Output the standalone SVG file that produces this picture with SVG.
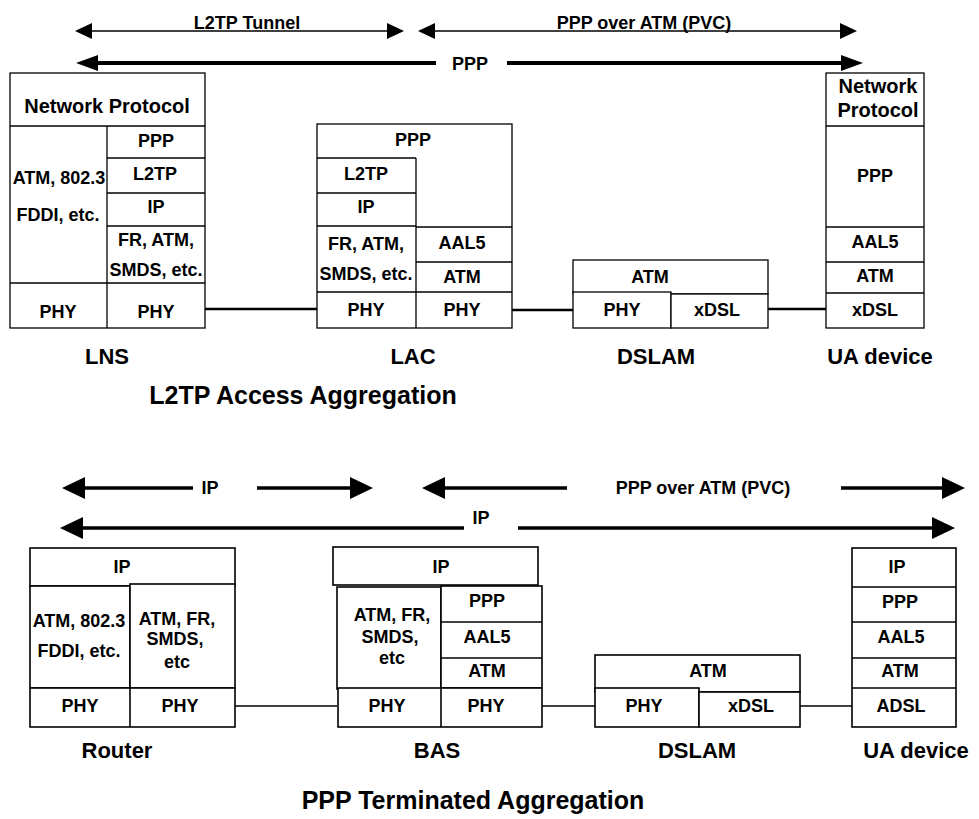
<svg xmlns="http://www.w3.org/2000/svg" width="979" height="819" viewBox="0 0 979 819">
<style>
.box{fill:#fff;stroke:#000;stroke-width:1.3}
.bx2{fill:#fff;stroke:#000;stroke-width:1.6}
.ln{stroke:#000;stroke-width:1.3;fill:none}
.ln2{stroke:#000;stroke-width:1.6;fill:none}
text{font-family:"Liberation Sans",Arial,sans-serif;font-weight:bold;font-size:18px;text-anchor:middle;fill:#000}
.np{font-size:20px}
.lbl{font-size:22px}
.hd{font-size:25px}
.thin{stroke:#000;stroke-width:1.4;fill:none}
.thick{stroke:#000;stroke-width:4;fill:none}
.mid{stroke:#000;stroke-width:3.5;fill:none}
.conA{stroke:#000;stroke-width:2.6;fill:none}
.conB{stroke:#000;stroke-width:1.7;fill:none}
</style>
<defs>
<marker id="ahS" viewBox="0 -8 17 16" refX="0" refY="0" markerWidth="17" markerHeight="16" markerUnits="userSpaceOnUse" orient="auto-start-reverse"><path d="M0,-8 L17,0 L0,8 z" fill="#000"/></marker>
<marker id="ahM" viewBox="0 -8 22 16" refX="0" refY="0" markerWidth="22" markerHeight="16" markerUnits="userSpaceOnUse" orient="auto-start-reverse"><path d="M0,-8 L22,0 L0,8 z" fill="#000"/></marker>
<marker id="ahL" viewBox="0 -11 23 22" refX="0" refY="0" markerWidth="23" markerHeight="22" markerUnits="userSpaceOnUse" orient="auto-start-reverse"><path d="M0,-11 L23,0 L0,11 z" fill="#000"/></marker>
</defs>
<rect width="979" height="819" fill="#fff"/>

<g id="connectors">
<line class="thin" x1="92" y1="31" x2="387" y2="31" marker-start="url(#ahS)" marker-end="url(#ahS)"/>
<line class="thin" x1="435" y1="31" x2="840" y2="31" marker-start="url(#ahS)" marker-end="url(#ahS)"/>
<line class="thick" x1="98" y1="63" x2="436" y2="63" marker-start="url(#ahM)"/>
<line class="thick" x1="507" y1="63" x2="841" y2="63" marker-end="url(#ahM)"/>
<line class="conA" x1="205" y1="309" x2="317" y2="309"/>
<line class="conA" x1="512" y1="310" x2="573" y2="310"/>
<line class="conA" x1="768" y1="309" x2="826" y2="309"/>
<line class="mid" x1="85" y1="488" x2="193" y2="488" marker-start="url(#ahL)"/>
<line class="mid" x1="257" y1="488" x2="350" y2="488" marker-end="url(#ahL)"/>
<line class="mid" x1="445" y1="488" x2="567" y2="488" marker-start="url(#ahL)"/>
<line class="mid" x1="841" y1="488" x2="942" y2="488" marker-end="url(#ahL)"/>
<line class="mid" x1="83" y1="528" x2="464" y2="528" marker-start="url(#ahL)"/>
<line class="mid" x1="518" y1="528" x2="932" y2="528" marker-end="url(#ahL)"/>
<line class="conB" x1="235" y1="706" x2="337" y2="706"/>
<line class="conB" x1="542" y1="706" x2="595" y2="706"/>
<line class="conB" x1="800" y1="706" x2="852" y2="706"/>
<text x="247" y="29">L2TP Tunnel</text>
<text x="644" y="29">PPP over ATM (PVC)</text>
<text x="470" y="70">PPP</text>
<text x="210" y="494">IP</text>
<text x="703" y="494">PPP over ATM (PVC)</text>
<text x="481" y="524">IP</text>
</g>

<g id="lns">
<rect class="box" x="10" y="73" width="195" height="255"/>
<line class="ln" x1="10" y1="126" x2="205" y2="126"/>
<line class="ln" x1="107" y1="126" x2="107" y2="328"/>
<line class="ln" x1="107" y1="158" x2="205" y2="158"/>
<line class="ln" x1="107" y1="193" x2="205" y2="193"/>
<line class="ln" x1="107" y1="226" x2="205" y2="226"/>
<line class="ln" x1="10" y1="283" x2="205" y2="283"/>
<text class="np" x="107" y="113">Network Protocol</text>
<text x="59" y="184">ATM, 802.3</text>
<text x="58" y="221">FDDI, etc.</text>
<text x="156" y="147">PPP</text>
<text x="155" y="180">L2TP</text>
<text x="156" y="213">IP</text>
<text x="156" y="246">FR, ATM,</text>
<text x="156" y="276">SMDS, etc.</text>
<text x="58" y="318">PHY</text>
<text x="156" y="318">PHY</text>
<text class="lbl" x="107" y="364">LNS</text>
</g>

<g id="lac">
<rect class="box" x="317" y="124" width="195" height="204"/>
<line class="ln" x1="317" y1="158" x2="416" y2="158"/>
<line class="ln" x1="416" y1="158" x2="416" y2="328"/>
<line class="ln" x1="317" y1="193" x2="416" y2="193"/>
<line class="ln" x1="317" y1="226" x2="416" y2="226"/>
<line class="ln" x1="416" y1="227" x2="512" y2="227"/>
<line class="ln" x1="416" y1="262" x2="512" y2="262"/>
<line class="ln" x1="317" y1="292" x2="512" y2="292"/>
<text x="413" y="146">PPP</text>
<text x="366" y="180">L2TP</text>
<text x="366" y="213">IP</text>
<text x="366" y="250">FR, ATM,</text>
<text x="366" y="280">SMDS, etc.</text>
<text x="462" y="249">AAL5</text>
<text x="462" y="283">ATM</text>
<text x="366" y="316">PHY</text>
<text x="462" y="316">PHY</text>
<text class="lbl" x="413" y="364">LAC</text>
</g>

<g id="dslam1">
<rect class="box" x="573" y="260" width="195" height="34"/>
<rect class="box" x="573" y="292" width="98" height="36"/>
<rect class="box" x="671" y="294" width="97" height="34"/>
<text x="650" y="283">ATM</text>
<text x="622" y="316">PHY</text>
<text x="717" y="316">xDSL</text>
<text class="lbl" x="656" y="364">DSLAM</text>
</g>

<g id="ua1">
<rect class="box" x="826" y="73" width="98" height="255"/>
<line class="ln" x1="826" y1="126" x2="924" y2="126"/>
<line class="ln" x1="826" y1="227" x2="924" y2="227"/>
<line class="ln" x1="826" y1="262" x2="924" y2="262"/>
<line class="ln" x1="826" y1="293" x2="924" y2="293"/>
<text class="np" x="878" y="93">Network</text>
<text class="np" x="878" y="117">Protocol</text>
<text x="875" y="182">PPP</text>
<text x="875" y="248">AAL5</text>
<text x="875" y="282">ATM</text>
<text x="875" y="316">xDSL</text>
<text class="lbl" x="880" y="364">UA device</text>
</g>

<text id="title1" class="hd" x="303" y="404">L2TP Access Aggregation</text>

<g id="router">
<rect class="bx2" x="30" y="548" width="205" height="38"/>
<rect class="bx2" x="30" y="586" width="100" height="102"/>
<rect class="bx2" x="130" y="584" width="105" height="104"/>
<rect class="bx2" x="30" y="688" width="205" height="39"/>
<line class="ln2" x1="130" y1="688" x2="130" y2="727"/>
<text x="122" y="573">IP</text>
<text x="79" y="627">ATM, 802.3</text>
<text x="79" y="657">FDDI, etc.</text>
<text x="177" y="625">ATM, FR,</text>
<text x="175" y="645">SMDS,</text>
<text x="177" y="668">etc</text>
<text x="80" y="712">PHY</text>
<text x="180" y="712">PHY</text>
<text class="lbl" x="117" y="758">Router</text>
</g>

<g id="bas">
<rect class="bx2" x="333" y="547" width="205" height="38"/>
<rect class="bx2" x="337" y="587" width="104" height="102"/>
<rect class="bx2" x="441" y="586" width="101" height="102"/>
<line class="ln2" x1="441" y1="622" x2="542" y2="622"/>
<line class="ln2" x1="441" y1="658" x2="542" y2="658"/>
<rect class="bx2" x="338" y="688" width="204" height="39"/>
<line class="ln2" x1="441" y1="688" x2="441" y2="727"/>
<text x="441" y="573">IP</text>
<text x="392" y="621">ATM, FR,</text>
<text x="390" y="643">SMDS,</text>
<text x="392" y="664">etc</text>
<text x="487" y="607">PPP</text>
<text x="487" y="643">AAL5</text>
<text x="487" y="677">ATM</text>
<text x="387" y="712">PHY</text>
<text x="486" y="712">PHY</text>
<text class="lbl" x="437" y="758">BAS</text>
</g>

<g id="dslam2">
<rect class="bx2" x="595" y="655" width="205" height="37"/>
<rect class="bx2" x="595" y="688" width="104" height="39"/>
<rect class="bx2" x="699" y="692" width="101" height="35"/>
<text x="708" y="677">ATM</text>
<text x="644" y="712">PHY</text>
<text x="751" y="712">xDSL</text>
<text class="lbl" x="697" y="758">DSLAM</text>
</g>

<g id="ua2">
<rect class="bx2" x="852" y="548" width="104" height="179"/>
<line class="ln2" x1="852" y1="587" x2="956" y2="587"/>
<line class="ln2" x1="852" y1="622" x2="956" y2="622"/>
<line class="ln2" x1="852" y1="658" x2="956" y2="658"/>
<line class="ln2" x1="852" y1="688" x2="956" y2="688"/>
<text x="897" y="573">IP</text>
<text x="900" y="608">PPP</text>
<text x="901" y="643">AAL5</text>
<text x="900" y="677">ATM</text>
<text x="901" y="712">ADSL</text>
<text class="lbl" x="916" y="758">UA device</text>
</g>

<text id="title2" class="hd" x="473" y="809">PPP Terminated Aggregation</text>
</svg>
